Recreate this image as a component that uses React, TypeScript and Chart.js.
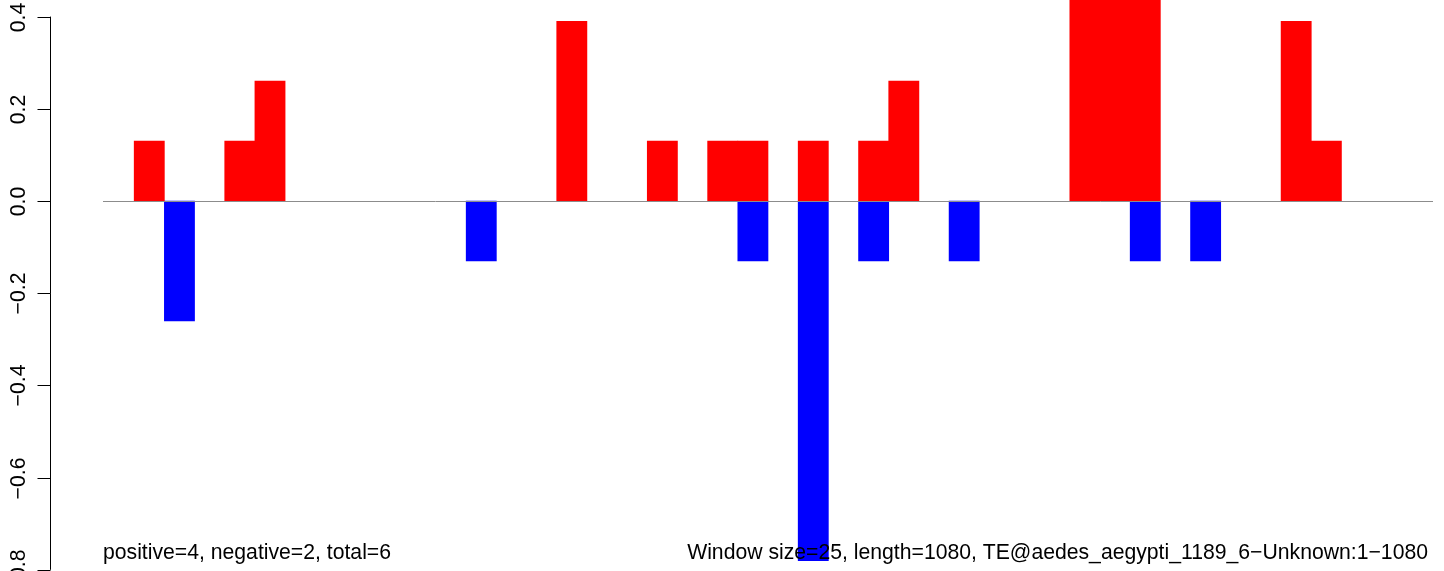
import React, { useEffect, useRef } from "react";
import { Chart, registerables } from "chart.js";

Chart.register(...registerables);

const windows: string[] = Array.from({ length: 44 }, (_, i) => String(i + 1));

// positive (red) values per window
const positiveValues: number[] = [
  0, 0.13, 0, 0, 0.13, 0.26, 0, 0, 0, 0,
  0, 0, 0, 0, 0, 0.39, 0, 0, 0.13, 0,
  0.13, 0.13, 0, 0.13, 0, 0.13, 0.26, 0, 0, 0,
  0, 0, 0.52, 0.52, 0.52, 0, 0, 0, 0, 0.39,
  0.13, 0, 0, 0,
];

// negative (blue) values per window
const negativeValues: number[] = [
  0, 0, -0.26, 0, 0, 0, 0, 0, 0, 0,
  0, 0, -0.13, 0, 0, 0, 0, 0, 0, 0,
  0, -0.13, 0, -0.78, 0, -0.13, 0, 0, -0.13, 0,
  0, 0, 0, 0, -0.13, 0, -0.13, 0, 0, 0,
  0, 0, 0, 0,
];

const yTicks: number[] = [0.4, 0.2, 0.0, -0.2, -0.4, -0.6, -0.8];
const yTickLabels: string[] = ["0.4", "0.2", "0.0", "\u22120.2", "\u22120.4", "\u22120.6", "\u22120.8"];

const leftNote = "positive=4, negative=2, total=6";
const rightNote = "Window size=25, length=1080, TE@aedes_aegypti_1189_6\u2212Unknown:1\u22121080";

const FONT = '21.2px "Liberation Sans", Arial, sans-serif';

const overlayPlugin = {
  id: "rOverlay",
  afterDatasetsDraw(chart: any) {
    const { ctx, chartArea, scales } = chart;
    const y = scales.y;
    ctx.save();
    // zero line
    const y0 = Math.round(y.getPixelForValue(0)) + 0.5;
    ctx.strokeStyle = "#8c8c8c";
    ctx.lineWidth = 1;
    ctx.beginPath();
    ctx.moveTo(chartArea.left - 1, y0);
    ctx.lineTo(chartArea.right + 1, y0);
    ctx.stroke();

    // y axis (R style, offset from plot region)
    const axisX = 50.5;
    const top = y.getPixelForValue(yTicks[0]);
    const bottom = y.getPixelForValue(yTicks[yTicks.length - 1]);
    ctx.strokeStyle = "#000";
    ctx.beginPath();
    ctx.moveTo(axisX, top);
    ctx.lineTo(axisX, bottom);
    ctx.stroke();
    ctx.font = FONT;
    ctx.fillStyle = "#000";
    ctx.textAlign = "center";
    ctx.textBaseline = "alphabetic";
    yTicks.forEach((v, i) => {
      const py = Math.round(y.getPixelForValue(v)) + 0.5;
      ctx.beginPath();
      ctx.moveTo(axisX - 13, py);
      ctx.lineTo(axisX, py);
      ctx.stroke();
      ctx.save();
      ctx.translate(25, py);
      ctx.rotate(-Math.PI / 2);
      ctx.fillText(yTickLabels[i], 0, 0);
      ctx.restore();
    });

    // bottom notes
    ctx.textAlign = "left";
    ctx.fillText(leftNote, 103, 559);
    ctx.textAlign = "right";
    ctx.fillText(rightNote, 1428, 559);
    ctx.restore();
  },
};

const toBars = (arr: number[]) => arr.map((v) => (v === 0 ? null : v));

export default function App() {
  const canvasRef = useRef<HTMLCanvasElement | null>(null);

  useEffect(() => {
    document.body.style.margin = "0";
    const canvas = canvasRef.current;
    if (!canvas) return;
    const yPerPx = 1 / 461;
    const chart = new Chart(canvas, {
      type: "bar",
      data: {
        labels: windows,
        datasets: [
          {
            label: "positive",
            data: toBars(positiveValues),
            backgroundColor: "#ff0000",
            borderWidth: 0,
            categoryPercentage: 1,
            barPercentage: 1,
          },
          {
            label: "negative",
            data: toBars(negativeValues),
            backgroundColor: "#0000ff",
            borderWidth: 0,
            categoryPercentage: 1,
            barPercentage: 1,
          },
        ],
      },
      options: {
        animation: false,
        responsive: true,
        maintainAspectRatio: false,
        devicePixelRatio: 1,
        layout: { padding: { left: 104, right: 12, top: 0, bottom: 0 } },
        plugins: {
          legend: { display: false },
          tooltip: { enabled: false },
        },
        scales: {
          x: { display: false, stacked: true, grid: { display: false } },
          y: {
            display: false,
            stacked: true,
            min: -370 * yPerPx,
            max: 201 * yPerPx,
            grid: { display: false },
          },
        },
      },
      plugins: [overlayPlugin],
    });
    return () => chart.destroy();
  }, []);

  return (
    <div style={{ position: "fixed", left: 0, top: 0, width: "1444px", height: "571px", background: "#fff" }}>
      <canvas ref={canvasRef} />
    </div>
  );
}
